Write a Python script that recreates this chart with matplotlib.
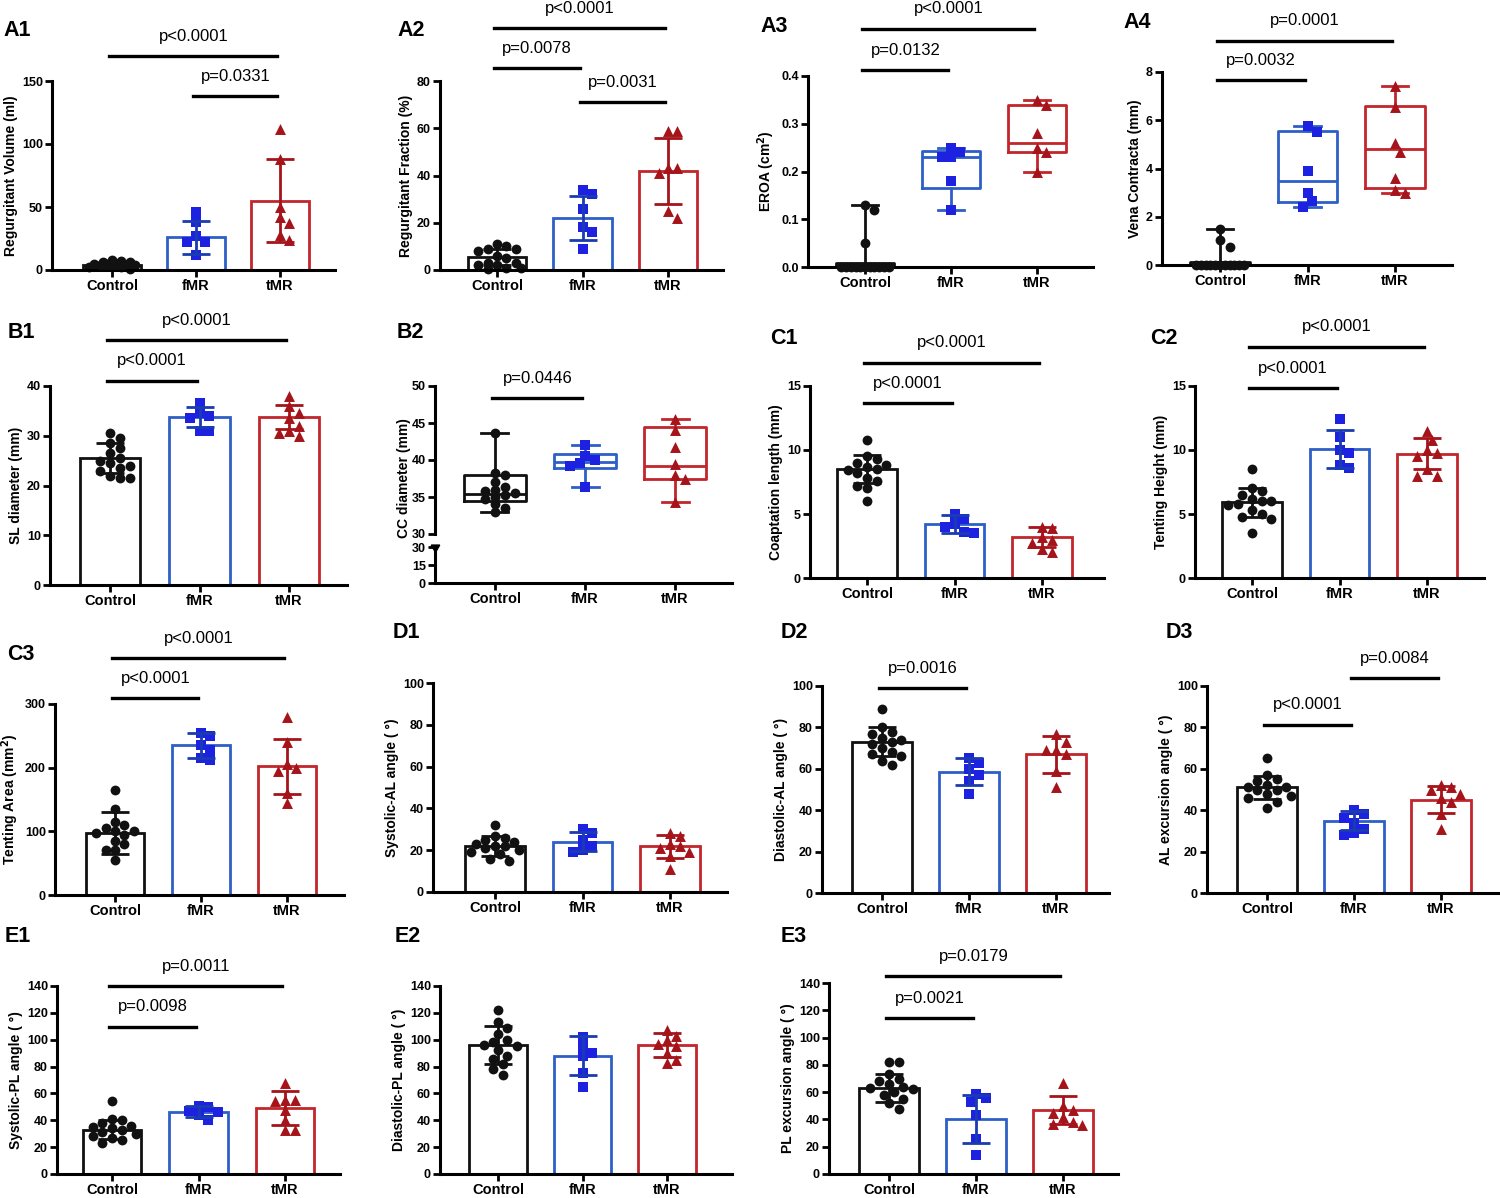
import numpy as np
import matplotlib
matplotlib.use("Agg")
import matplotlib.pyplot as plt
from matplotlib.transforms import blended_transform_factory

plt.rcParams['font.family'] = ['Liberation Sans', 'DejaVu Sans']
plt.rcParams['font.weight'] = 'bold'
plt.rcParams['axes.labelweight'] = 'bold'

W, H = 1500, 1198

groups = ["Control", "fMR", "tMR"]
edge_cols = ["#111111", "#2d5fc6", "#c1262c"]
dot_cols = ["#111111", "#1c22e0", "#a5141a"]
err_cols = ["#111111", "#1a3cb0", "#a5141a"]
markers = ["o", "s", "^"]

# ---- values ----
# A1 regurgitant volume (bar, mean +/- SD)
a1_mean = [4, 26, 55]
a1_sd = [2.5, 13, 33]
a1_ctrl = [1, 2, 3, 3, 4, 4, 5, 5, 6, 6, 7, 8, 2, 5]
a1_fmr = [46, 38, 27, 22, 22, 12]
a1_tmr = [112, 88, 50, 42, 37, 28, 24]

# A2 regurgitant fraction
a2_mean = [5.5, 22, 42]
a2_sd = [3.5, 9.5, 14]
a2_ctrl = [11, 10, 9, 9, 8, 6, 5, 3, 2, 1, 1, 0.5, 3, 2]
a2_fmr = [34, 32, 26, 18, 16, 9]
a2_tmr = [59, 59, 43, 43, 41, 25, 22]

# A3 EROA (box: whislo, q1, med, q3, whishi)
a3_box = [[0, 0, 0.003, 0.008, 0.13], [0.12, 0.165, 0.23, 0.243, 0.25], [0.20, 0.24, 0.26, 0.34, 0.35]]
a3_ctrl = [0.13, 0.12, 0.05, 0, 0, 0, 0, 0, 0, 0, 0, 0, 0, 0]
a3_fmr = [0.25, 0.24, 0.23, 0.23, 0.18, 0.12]
a3_tmr = [0.35, 0.34, 0.28, 0.25, 0.24, 0.20]

# A4 vena contracta (box)
a4_box = [[0, 0, 0.03, 0.12, 1.5], [2.4, 2.6, 3.5, 5.55, 5.75], [3.0, 3.2, 4.8, 6.6, 7.4]]
a4_ctrl = [1.5, 1.05, 0.75, 0, 0, 0, 0, 0, 0, 0, 0, 0, 0, 0]
a4_fmr = [5.75, 5.5, 3.9, 3.0, 2.65, 2.4]
a4_tmr = [7.4, 6.55, 5.05, 4.7, 3.6, 3.1, 3.0]

# B1 SL diameter
b1_mean = [25.5, 33.8, 33.8]
b1_sd = [3, 2, 2.4]
b1_ctrl = [30.5, 29.5, 28.5, 27.5, 26.5, 25.5, 25, 24.5, 24, 23.5, 23, 22, 21.5, 21.5]
b1_fmr = [36.5, 34.5, 34, 33.5, 31, 31]
b1_tmr = [38, 36, 34.5, 33.5, 32, 31, 30.5, 30]

# B2 CC diameter (box, broken axis)
b2_box = [[33, 34.5, 35.4, 38, 43.7], [36.3, 38.9, 39.7, 40.8, 42], [34.3, 37.5, 39.2, 44.4, 45.6]]
b2_ctrl = [43.7, 38.3, 38, 37, 36.3, 36, 35.8, 35.5, 35.3, 35, 34.7, 34, 33.5, 33]
b2_fmr = [42, 40.5, 40, 39.6, 39.2, 36.3]
b2_tmr = [45.6, 44, 41.8, 39.5, 38, 37.5, 34.3]

# C1 coaptation length
c1_mean = [8.5, 4.2, 3.2]
c1_sd = [1.1, 0.7, 0.8]
c1_ctrl = [10.8, 9.5, 9.3, 9, 8.8, 8.7, 8.5, 8.4, 8.2, 7.8, 7.6, 7.2, 7.0, 6.0]
c1_fmr = [5.0, 4.6, 4.2, 4.0, 3.6, 3.5]
c1_tmr = [4.0, 3.9, 3.2, 3.0, 2.7, 2.3, 2.0]

# C2 tenting height
c2_mean = [5.9, 10.1, 9.7]
c2_sd = [1.1, 1.5, 1.2]
c2_ctrl = [8.5, 7.0, 6.8, 6.5, 6.2, 6.0, 6.0, 5.8, 5.7, 5.3, 5.0, 4.8, 4.6, 3.5]
c2_fmr = [12.4, 11.0, 10.0, 9.8, 8.8, 8.6]
c2_tmr = [11.5, 10.8, 10.0, 9.8, 9.5, 8.5, 8.0, 8.0]

# C3 tenting area
c3_mean = [98, 235, 202]
c3_sd = [33, 20, 43]
c3_ctrl = [165, 135, 115, 110, 105, 100, 100, 98, 95, 85, 80, 70, 70, 55]
c3_fmr = [255, 250, 235, 228, 215, 212]
c3_tmr = [280, 240, 205, 200, 195, 160, 145]

# D1 systolic-AL angle
d1_mean = [22, 24, 22]
d1_sd = [5, 4.5, 5.5]
d1_ctrl = [32, 27, 26, 25, 24, 23, 22, 22, 21, 20, 19, 18, 16, 15]
d1_fmr = [30, 28, 25, 22, 20, 19]
d1_tmr = [28, 27, 23, 22, 21, 19, 17, 11]

# D2 diastolic-AL angle
d2_mean = [73, 58.5, 67]
d2_sd = [7, 6.5, 9]
d2_ctrl = [89, 80, 78, 77, 75, 74, 73, 72, 70, 68, 67, 66, 64, 62]
d2_fmr = [65, 63, 60, 57, 54, 48]
d2_tmr = [77, 73, 69, 69, 67, 59, 51]

# D3 AL excursion angle
d3_mean = [51, 35, 45]
d3_sd = [5.5, 4.5, 6.5]
d3_ctrl = [65, 57, 55, 54, 52, 51, 51, 50, 50, 48, 47, 46, 44, 41]
d3_fmr = [40, 38, 36, 34, 31, 29, 28]
d3_tmr = [52, 51, 50, 48, 46, 44, 38, 31]

# E1 systolic-PL angle
e1_mean = [33, 46.5, 49]
e1_sd = [7, 4, 12.5]
e1_ctrl = [54, 41, 40, 38, 36, 35, 34, 33, 31, 30, 28, 27, 25, 23]
e1_fmr = [51, 50, 47, 46, 44, 40]
e1_tmr = [68, 55, 55, 54, 48, 40, 33, 33]

# E2 diastolic-PL angle
e2_mean = [96, 88, 96]
e2_sd = [14, 14.5, 9]
e2_ctrl = [122, 113, 109, 104, 100, 98, 96, 95, 92, 88, 86, 82, 78, 74]
e2_fmr = [102, 95, 90, 88, 75, 65]
e2_tmr = [107, 103, 100, 97, 95, 90, 85, 83]

# E3 PL excursion angle
e3_mean = [63, 40.5, 47]
e3_sd = [10.5, 17.5, 10]
e3_ctrl = [82, 82, 73, 70, 68, 66, 64, 63, 62, 60, 58, 55, 52, 48]
e3_fmr = [59, 56, 53, 43, 26, 14]
e3_tmr = [67, 50, 47, 45, 42, 38, 37, 36]


fig = plt.figure(figsize=(W / 100, H / 100), dpi=100)


def swarm(vals, ymax, dx=0.11, dy=0.048, maxoff=0.3):
    """Spread points sideways so they don't sit on top of each other."""
    vals = np.asarray(vals, float)
    step = dx / 2
    cands = [0.0]
    k = 1
    while k * step <= maxoff + 1e-9:
        cands += [k * step, -k * step]
        k += 1
    placed = []
    offs = np.zeros(len(vals))
    for i in np.argsort(-vals):
        y = vals[i] / ymax
        best, bestd = 0.0, -1
        for c in cands:
            d = min([np.hypot((c - pc) / dx, (y - py) / dy) for pc, py in placed], default=9)
            if d >= 1:
                best = c
                break
            if d > bestd + 1e-6:
                best, bestd = c, d
        offs[i] = best
        placed.append((best, y))
    return offs


def make_axes(x0, x1, ytop, ybot, cx0, cx2):
    ax = fig.add_axes([x0 / W, 1 - ybot / H, (x1 - x0) / W, (ybot - ytop) / H])
    s = (cx2 - cx0) / 2
    ax.set_xlim((x0 - cx0) / s, (x1 - cx0) / s)
    for sp in ['top', 'right']:
        ax.spines[sp].set_visible(False)
    for sp in ['left', 'bottom']:
        ax.spines[sp].set_linewidth(2.2)
    ax.tick_params(width=2, length=5, labelsize=9, pad=1.5)
    ax.tick_params(axis='x', labelsize=10.5, pad=1.5)
    ax.set_xticks(range(3), groups)
    return ax


def draw_points(ax, pts, ymax, z=3):
    for i, vals in enumerate(pts):
        offs = swarm(vals, ymax)
        ax.scatter(i + offs, vals, s=50 if i < 2 else 62, marker=markers[i], color=dot_cols[i],
                   zorder=z, clip_on=False, linewidths=0)


def bar_panel(ax, means, sds, pts, ymax):
    ax.bar(range(3), means, width=0.68, facecolor='white', edgecolor=edge_cols, linewidth=2, zorder=1)
    draw_points(ax, pts, ymax, z=2)
    for i in range(3):
        ax.errorbar(i, means[i], yerr=sds[i], fmt='none', ecolor=err_cols[i], elinewidth=2,
                    capsize=10, capthick=2, zorder=4, clip_on=False)


def box_panel(ax, boxes, pts, ymax):
    for i, b in enumerate(boxes):
        st = [dict(whislo=b[0], q1=b[1], med=b[2], q3=b[3], whishi=b[4])]
        c = edge_cols[i]
        ax.bxp(st, positions=[i], widths=0.68, showfliers=False, capwidths=0.3, manage_ticks=False,
               boxprops=dict(color=c, linewidth=2), whiskerprops=dict(color=c, linewidth=2),
               capprops=dict(color=c, linewidth=2), medianprops=dict(color=c, linewidth=2))
    draw_points(ax, pts, ymax, z=3)


def sig(ax, i, j, text, ypx):
    tr = blended_transform_factory(ax.transData, fig.transFigure)
    y = 1 - ypx / H
    ax.plot([i - 0.03, j - 0.03], [y, y], color='black', lw=2.4, transform=tr, clip_on=False)
    fig.text(0, 0, text, transform=tr, fontsize=12, fontweight='normal', ha='center', va='center')
    fig.texts[-1].set_position(((i + j) / 2 - 0.03, 1 - (ypx - 20) / H))


def panel_label(text, xpx, ypx):
    fig.text(xpx / W, 1 - ypx / H, text, fontsize=15.5, fontweight='bold', ha='left', va='center')


def finish(ax, top, step, label, fmt=None):
    ax.set_ylim(0, top)
    ticks = np.arange(0, top + step / 2, step)
    ax.set_yticks(ticks)
    if fmt:
        ax.set_yticklabels([fmt.format(t) for t in ticks])
    ax.set_ylabel(label, fontsize=10, labelpad=3)


# ---- row A ----
ax = make_axes(52, 335, 81, 270, 112, 280)
bar_panel(ax, a1_mean, a1_sd, [a1_ctrl, a1_fmr, a1_tmr], 150)
finish(ax, 150, 50, "Regurgitant Volume (ml)")
sig(ax, 0, 2, "p<0.0001", 56)
sig(ax, 1, 2, "p=0.0331", 96)
panel_label("A1", 3, 31)

ax = make_axes(440, 723, 81, 270, 497, 668)
bar_panel(ax, a2_mean, a2_sd, [a2_ctrl, a2_fmr, a2_tmr], 80)
finish(ax, 80, 20, "Regurgitant Fraction (%)")
sig(ax, 0, 2, "p<0.0001", 28)
sig(ax, 0, 1, "p=0.0078", 68)
sig(ax, 1, 2, "p=0.0031", 102)
panel_label("A2", 397, 31)

ax = make_axes(808, 1093, 76, 267, 865, 1037)
box_panel(ax, a3_box, [a3_ctrl, a3_fmr, a3_tmr], 0.4)
finish(ax, 0.4, 0.1, "EROA (cm$^2$)", fmt="{:.1f}")
sig(ax, 0, 2, "p<0.0001", 29)
sig(ax, 0, 1, "p=0.0132", 70)
panel_label("A3", 760, 27)

ax = make_axes(1162, 1452, 72, 265, 1220, 1395)
box_panel(ax, a4_box, [a4_ctrl, a4_fmr, a4_tmr], 8)
finish(ax, 8, 2, "Vena Contracta (mm)")
sig(ax, 0, 2, "p=0.0001", 41)
sig(ax, 0, 1, "p=0.0032", 80)
panel_label("A4", 1123, 22)

# ---- row B / C ----
ax = make_axes(50, 347, 386, 585, 110, 289)
bar_panel(ax, b1_mean, b1_sd, [b1_ctrl, b1_fmr, b1_tmr], 40)
finish(ax, 40, 10, "SL diameter (mm)")
sig(ax, 0, 2, "p<0.0001", 340)
sig(ax, 0, 1, "p<0.0001", 381)
panel_label("B1", 8, 332)

# B2 with a broken y axis: upper part 30-50, lower part 0-30
ax = make_axes(435, 732, 386, 534, 495, 675)
ax.spines['bottom'].set_visible(False)
ax.tick_params(axis='x', length=0, labelbottom=False)
box_panel(ax, b2_box, [b2_ctrl, b2_fmr, b2_tmr], 20)
ax.set_ylim(30, 50)
ax.set_yticks([30, 35, 40, 45, 50])
ax.set_ylabel("CC diameter (mm)", fontsize=10, labelpad=3)
ax.yaxis.set_label_coords(-0.08, 0.38)
sig(ax, 0, 1, "p=0.0446", 398)
axl = make_axes(435, 732, 547, 583, 495, 675)
axl.set_ylim(0, 30)
axl.set_yticks([0, 15, 30])
axl.plot([0], [30], marker=(3, 0, 180), color='black', ms=7,
         transform=blended_transform_factory(axl.transAxes, axl.transData), clip_on=False)
panel_label("B2", 397, 332)

ax = make_axes(810, 1104, 386, 578, 867, 1042)
bar_panel(ax, c1_mean, c1_sd, [c1_ctrl, c1_fmr, c1_tmr], 15)
finish(ax, 15, 5, "Coaptation length (mm)")
sig(ax, 0, 2, "p<0.0001", 363)
sig(ax, 0, 1, "p<0.0001", 403)
panel_label("C1", 770, 338)

ax = make_axes(1195, 1484, 386, 578, 1252, 1427)
bar_panel(ax, c2_mean, c2_sd, [c2_ctrl, c2_fmr, c2_tmr], 15)
finish(ax, 15, 5, "Tenting Height (mm)")
sig(ax, 0, 2, "p<0.0001", 347)
sig(ax, 0, 1, "p<0.0001", 388)
panel_label("C2", 1150, 338)

# ---- row C3 / D ----
ax = make_axes(55, 344, 704, 895, 115, 287)
bar_panel(ax, c3_mean, c3_sd, [c3_ctrl, c3_fmr, c3_tmr], 300)
finish(ax, 300, 100, "Tenting Area (mm$^2$)")
sig(ax, 0, 2, "p<0.0001", 658)
sig(ax, 0, 1, "p<0.0001", 698)
panel_label("C3", 7, 655)

ax = make_axes(433, 727, 683, 892, 495, 670)
bar_panel(ax, d1_mean, d1_sd, [d1_ctrl, d1_fmr, d1_tmr], 100)
finish(ax, 100, 20, "Systolic-AL angle ( °)")
panel_label("D1", 393, 632)

ax = make_axes(822, 1109, 686, 893, 882, 1056)
bar_panel(ax, d2_mean, d2_sd, [d2_ctrl, d2_fmr, d2_tmr], 100)
finish(ax, 100, 20, "Diastolic-AL angle ( °)")
sig(ax, 0, 1, "p=0.0016", 688)
panel_label("D2", 781, 632)

ax = make_axes(1207, 1499, 686, 893, 1267, 1441)
bar_panel(ax, d3_mean, d3_sd, [d3_ctrl, d3_fmr, d3_tmr], 100)
finish(ax, 100, 20, "AL excursion angle ( °)")
sig(ax, 1, 2, "p=0.0084", 678)
sig(ax, 0, 1, "p<0.0001", 725)
panel_label("D3", 1166, 632)

# ---- row E ----
ax = make_axes(57, 340, 986, 1174, 112, 285)
bar_panel(ax, e1_mean, e1_sd, [e1_ctrl, e1_fmr, e1_tmr], 140)
finish(ax, 140, 20, "Systolic-PL angle ( °)")
sig(ax, 0, 2, "p=0.0011", 986)
sig(ax, 0, 1, "p=0.0098", 1027)
panel_label("E1", 5, 937)

ax = make_axes(440, 732, 986, 1174, 498, 667)
bar_panel(ax, e2_mean, e2_sd, [e2_ctrl, e2_fmr, e2_tmr], 140)
finish(ax, 140, 20, "Diastolic-PL angle ( °)")
panel_label("E2", 395, 937)

ax = make_axes(829, 1118, 983, 1174, 889, 1063)
bar_panel(ax, e3_mean, e3_sd, [e3_ctrl, e3_fmr, e3_tmr], 140)
finish(ax, 140, 20, "PL excursion angle ( °)")
sig(ax, 0, 2, "p=0.0179", 976)
sig(ax, 0, 1, "p=0.0021", 1018)
panel_label("E3", 781, 937)

fig.savefig("out.png", dpi=100)
